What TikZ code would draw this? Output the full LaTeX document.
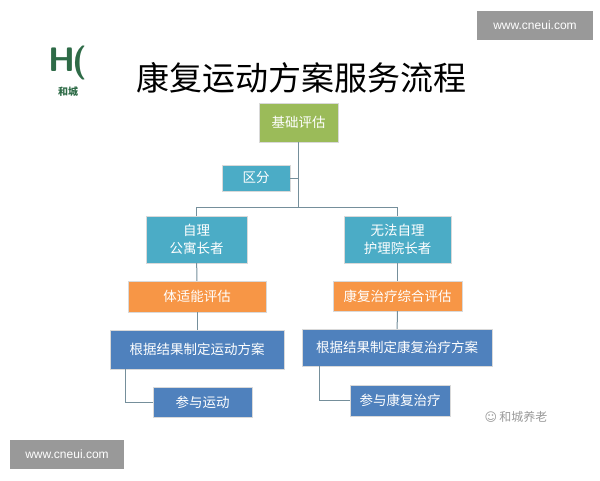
\documentclass[tikz,border=0pt]{standalone}
\usepackage{fontspec}
\newfontfamily\cjk{Noto Sans CJK SC}
\begin{document}
\begin{tikzpicture}[x=1pt,y=-1pt,
  bx/.style={draw=white!85!black,line width=0.4pt,text=white,font=\cjk\fontsize{13.5}{18}\selectfont,inner sep=0pt,align=center},
  ln/.style={draw=black!35!cyan!40!gray,line width=1pt},
  wm/.style={fill=black!40,text=white,font=\fontspec{Liberation Sans}\fontsize{12}{12}\selectfont,inner sep=0pt}]
\useasboundingbox (0,0) rectangle (600,480);
\definecolor{gr}{HTML}{9BBB59}\definecolor{cy}{HTML}{4BACC6}
\definecolor{og}{HTML}{F79646}\definecolor{bl}{HTML}{4F81BD}
\definecolor{hc}{HTML}{2E6B47}
\node[wm,minimum width=116,minimum height=29] (w1) at (535,25.5) {www.cneui.com};
\node[wm,minimum width=114,minimum height=29] (w2) at (67,454.5) {www.cneui.com};
\node[font=\fontfamily{lmss}\bfseries\fontsize{34}{34}\selectfont,text=hc] (lg) at (68,63) {H\kern-3pt(};
\node[font=\cjk\bfseries\fontsize{10}{10}\selectfont,text=hc] (lgt) at (68,92) {和城};
\node[font=\cjk\fontsize{33}{33}\selectfont] (t) at (301,78) {康复运动方案服务流程};
\node[bx,fill=gr,minimum width=79,minimum height=39] (a) at (298.5,122.5) {基础评估};
\node[bx,fill=cy,minimum width=68,minimum height=26] (q) at (256,178) {区分};
\node[bx,fill=cy,minimum width=101,minimum height=47] (l1) at (196.5,239.5) {自理\\公寓长者};
\node[bx,fill=cy,minimum width=107,minimum height=47] (r1) at (397.5,239.5) {无法自理\\护理院长者};
\node[bx,fill=og,minimum width=138,minimum height=31] (l2) at (197,296.5) {体适能评估};
\node[bx,fill=og,minimum width=129,minimum height=30] (r2) at (397.5,296) {康复治疗综合评估};
\node[bx,fill=bl,minimum width=174,minimum height=39] (l3) at (197,349.5) {根据结果制定运动方案};
\node[bx,fill=bl,minimum width=190,minimum height=37] (r3) at (397,347.5) {根据结果制定康复治疗方案};
\node[bx,fill=bl,minimum width=99,minimum height=30] (l4) at (202.5,402) {参与运动};
\node[bx,fill=bl,minimum width=100,minimum height=31] (r4) at (400,400.5) {参与康复治疗};
\node[font=\cjk\fontsize{12}{12}\selectfont,text=black!40] (wx) at (516,417) {\fontspec{DejaVu Sans}☺\,\cjk 和城养老};
\coordinate (j) at (298.5,207);
\draw[ln] (a.south) -- (j);
\draw[ln] (q.east) -- (q.east -| a.south);
\draw[ln] (j) -| (l1.north);
\draw[ln] (j) -| (r1.north);
\draw[ln] (l1) -- (l2);
\draw[ln] (r1) -- (r2);
\draw[ln] (l2) -- (l3);
\draw[ln] (r2) -- (r3);
\draw[ln] (l3.south west) ++(16,0) |- (l4.west);
\draw[ln] (r3.south west) ++(18,0) |- (r4.west);
\end{tikzpicture}
\end{document}
